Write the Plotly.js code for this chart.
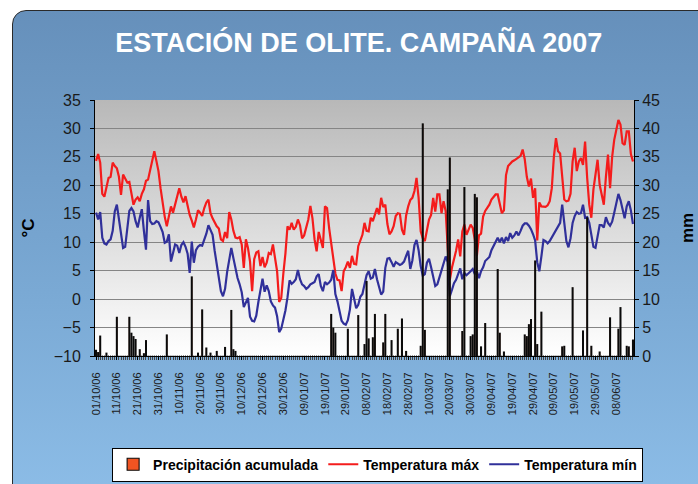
<!DOCTYPE html>
<html>
<head>
<meta charset="utf-8">
<script src="https://cdn.plot.ly/plotly-3.0.1.min.js"></script>
<style>
html,body{margin:0;padding:0;background:#fff;width:698px;height:484px;overflow:hidden;font-family:"Liberation Sans",Arial,sans-serif;}
#frame{position:absolute;left:12px;top:10px;width:760px;height:560px;border:1px solid #2a2a2a;border-radius:14px;
background:linear-gradient(to bottom,#6690bb 0%,#7aa9d4 50%,#93c4ee 100%);}
#plotbg{position:absolute;left:95px;top:100px;width:539px;height:256px;
background:linear-gradient(to bottom,#b8b8b8 0%,#d8d8d8 45%,#ffffff 100%);}
#chart{position:absolute;left:0;top:0;width:698px;height:484px;}
</style>
</head>
<body>
<div id="frame"></div>
<div id="plotbg"></div>
<div id="chart"></div>
<script>
const startDate = '2006-10-01';
const tickLabels = ['01/10/06','11/10/06','21/10/06','31/10/06','10/11/06','20/11/06','30/11/06','10/12/06','20/12/06','30/12/06',
  '09/01/07','19/01/07','29/01/07','08/02/07','18/02/07','28/02/07','10/03/07','20/03/07','30/03/07','09/04/07',
  '19/04/07','29/04/07','09/05/07','19/05/07','29/05/07','08/06/07'];

const tempMax = [
24.3,25.5,24,18.5,18,20,21.3,21.5,24,23.4,
23,21.5,18.3,21.9,21.2,20.5,20.6,18.4,16.6,17.5,
17.9,17.2,18.5,19.3,20.8,21,22.5,24,26,24.3,
22.5,19.5,16.5,14.5,12.8,14.5,16.3,15.2,16.5,17.8,
19.5,18,17,18.1,16.5,14.8,13.8,12.6,14,15.6,
15.2,14.6,16,17,17.5,15.1,14.2,13.4,12.8,12.4,
10.5,10.2,11.8,10.7,15.3,14,12,10.8,10.7,10.9,
9.6,5.5,10.5,9,6.6,1.4,7,8.2,8.4,5.8,
7.4,5.6,6.4,8.1,7.9,9.6,7.2,4.9,-0.5,0.2,
4.5,8,12.8,12.2,13.4,12.2,12.7,14,13,10.7,
11.2,12.6,14,16.4,14.2,10.5,8.4,11.8,10.4,9,
16.3,16,12.5,9.8,6.6,4.5,3.4,3.3,1.4,4.9,
5.6,6.6,5.5,7.6,6.2,6.1,9.3,10.2,11.3,13.4,
12,11.9,14.3,13.7,14.8,16,14.9,17.8,16.2,16.6,
13.2,11.4,11.9,12.8,14.6,15.1,15,12.2,11.3,14.7,
16.3,17.4,17.8,19,21.3,17.8,11.9,10.7,10.2,12.5,
14,14.8,17.8,15.4,18.4,18.4,15.1,17.2,15.5,9,
3.4,5.5,6.8,8.5,10.5,7.5,11.9,13.1,11.3,12.2,
13.1,12.5,10.5,7.6,11.2,11.5,14.5,15.5,16,16.6,
17.5,17.9,18.4,18.4,16.5,15.1,15.6,21.8,23.4,23.8,
24.2,24.4,24.6,24.9,25.2,26.3,24.6,21.5,19.8,21.2,
17.8,19.5,10.3,17,16.3,16.2,16.2,16.5,17.2,19.5,
25,28.3,26,25.6,22,17.5,17.2,17.3,18.5,24.2,
26.6,22.5,24.2,24.8,23.6,27.7,21.3,16.6,14.3,19.3,
21.9,24.5,20.1,18.5,16.6,21.5,25.4,19.5,25,28,
29.5,31.5,30.7,27.4,27.1,29.5,29.5,25.5,24.2];

const tempMin = [
15.2,14,15.3,10.8,9.8,9.6,10.2,10.5,12,15.4,
16.6,14,11,9,9.2,12.8,15.5,16,15.4,13.7,
12.6,14.3,15.8,12,8.7,17.4,13.7,13.2,13.3,13.7,
13.5,12.7,11.8,9.9,10.1,11.4,6.6,8.1,9.6,9.4,
8.1,9.5,10,9.2,8,4.6,10.1,6.4,8.6,9.2,
9.5,9.4,10.4,11.5,13,12.1,11.3,8.5,6,3.6,
1.4,0.5,1.8,4.8,7.2,9,7.2,5.2,3.7,2.6,
1.2,-1.4,-0.5,0.2,-3.1,-3.8,-3.9,-2.9,-0.5,1.6,
3.6,1.3,2.4,1.4,-0.4,-1.1,-1.5,-3,-5.8,-5.2,
-3.6,-2,0.3,3.3,2.7,3,3.5,5.1,3.5,2.6,
2.3,1.8,2.1,2.6,2.8,3,4,4.4,2.3,1.4,
3,2.6,2.9,3.4,5.1,0.9,-0.4,-2.3,-3.8,-4.3,
-4.5,-3.7,-1.8,1.8,0.3,-1.6,-1,0.4,0.9,2.7,
4.2,4.9,3.6,3.8,5.3,3.5,2.2,0.8,1.3,5.5,
7.1,7.2,6.5,5.7,6.5,6.3,6,6.2,6.6,7.6,
8.5,5.3,6.8,9.5,10.4,8.6,5.8,4.1,4.4,6.4,
7.1,5.6,3.8,2.3,2.6,3.9,5.2,6.4,7.5,6.5,
0.5,1.6,2.8,3.4,4.6,5.4,3.5,4.6,4.2,4.5,
4.9,5.3,4.4,4.9,3.7,4.9,5.6,6.7,7,7.4,
8.6,9.4,10,10.8,10,10.8,9.8,10.9,10.2,11.6,
10.8,11.2,11.9,11.2,12,12.9,13.3,13.3,12.9,12.3,
11.4,10.3,6.5,4.9,7.5,10.4,10.2,9.8,10.2,10.8,
11.5,12.1,12.7,13.4,16.6,13,10.2,9.1,10.7,13.4,
14.6,15.3,15,15.1,16.6,14.3,14.4,13.4,11.4,9.2,
9,11.2,13,13,12.6,14.4,13.4,12.9,13.6,15.2,
17.1,18.5,17.4,15.6,14.2,16.3,17.2,15.6,13.2];

const precip = [
1,0.6,3.5,0,0,0.5,0,0,0,0,
6.8,0,0,0,0,0,6.8,4,3.4,2.9,
0,1.1,0,0.4,2.7,0,0,0,0,0,
0,0,0,0,3.7,0,0,0,0,0,
0,0,0,0,0,0,13.9,0,0,0.5,
0,8.1,0,1.4,0,0.5,0,0,0.8,0,
0,0,1.5,0,0,8,1.1,0.8,0,0,
0,0,0,0,0,0,0,0,0,0,
0,0,0,0,0,0,0,0,0,0,
0,0,0,0,0,0,0,0,0,0,
0,0,0,0,0,0,0,0,0,0,
0,0,0,7.3,4.9,4,0,0,0,0,
0,4.7,0,0,0,0,7.1,0,0,2,
13.1,3,0,3.2,7.3,0,0,0,2.3,7.3,
0,0,2.7,0,0,4.7,0,6.5,0,0.8,
0,0,0,0,0,0,1.7,40.8,4.5,0,
0,0,0,0,0,0,0,0,0,29.2,
34.8,0,0,0,0,0,4.3,29.6,0,0,
3.4,3.7,28.4,27.8,0,1.6,0,5.7,0,0,
0,0,0,15.2,4,0,0.7,0,0,0,
0,0,0,0,0,0,3.7,3.4,5.5,6.4,
0,16.7,2,0,7.7,0,0,0,0,0,
0,0,0,0,1.6,1.7,0,0,0,12,
0,0,0,0,4.4,0,24.3,0,1.7,0,
0,0,0.7,0,0,0,0,6.7,0,0,
0,4.7,8.5,0,0,1.7,1.6,0,2.8];

// daily date categories
const dates = [];
const t0 = Date.parse(startDate + 'T00:00:00Z');
for (let i = 0; i < tempMax.length; i++) {
  dates.push(new Date(t0 + i * 86400000).toISOString().slice(0, 10));
}
const tickVals = tickLabels.map(s => '20' + s.slice(6, 8) + '-' + s.slice(3, 5) + '-' + s.slice(0, 2));
const lastDate = dates[dates.length - 1];
const DAY = 86400000;
const xStart = new Date(t0 - DAY / 2).toISOString().replace('T', ' ').slice(0, 19);
const xEnd = new Date(Date.parse(lastDate + 'T00:00:00Z') + DAY / 2).toISOString().replace('T', ' ').slice(0, 19);

const font = 'Liberation Sans, Arial, sans-serif';

const traces = [
  {type: 'bar', name: 'Precipitación acumulada', x: dates, y: precip, yaxis: 'y2',
   marker: {color: '#f05422', line: {color: '#0a0a0a', width: 1.1}}},
  {type: 'scatter', mode: 'lines', name: 'Temperatura máx', x: dates, y: tempMax,
   line: {color: '#f41c1c', width: 2.2}},
  {type: 'scatter', mode: 'lines', name: 'Temperatura mín', x: dates, y: tempMin,
   line: {color: '#30309a', width: 2.2}}
];

const layout = {
  width: 698, height: 484,
  margin: {l: 95, r: 64, t: 100, b: 128, autoexpand: false},
  paper_bgcolor: 'rgba(0,0,0,0)',
  plot_bgcolor: 'rgba(0,0,0,0)',
  bargap: 0.55,
  showlegend: true,
  title: {text: 'ESTACIÓN DE OLITE. CAMPAÑA 2007', font: {family: font, size: 27, color: '#ffffff', weight: 'bold'},
          x: 0.514, xanchor: 'center', y: 0.912, yanchor: 'middle'},
  xaxis: {type: 'date', range: [xStart, xEnd], tickmode: 'array', tickvals: tickVals, ticktext: tickLabels,
          tickangle: -90, tickfont: {family: font, size: 11, color: '#1a1a1a'}, automargin: false,
          ticklabelstandoff: 8,
          showline: true, linecolor: '#000', linewidth: 1, ticks: 'outside', ticklen: 3, tickcolor: '#000',
          minor: {ticks: 'outside', dtick: DAY, ticklen: 3, tickcolor: '#444', showgrid: false},
          showgrid: false, zeroline: false},
  yaxis: {range: [-10, 35], dtick: 5, tick0: -10, tickfont: {family: font, size: 16, color: '#1a1a1a'}, automargin: false,
          ticklabelstandoff: 6,
          showline: true, linecolor: '#000', linewidth: 1, ticks: 'outside', ticklen: 4, tickcolor: '#000',
          gridcolor: '#858585', gridwidth: 1, zeroline: false,
          title: {text: '°C', font: {family: font, size: 17, color: '#000', weight: 'bold'}, standoff: 14}},
  yaxis2: {range: [0, 45], dtick: 5, tick0: 0, overlaying: 'y', side: 'right', automargin: false,
           tickfont: {family: font, size: 16, color: '#1a1a1a'},
           showline: true, linecolor: '#000', linewidth: 1, ticks: 'outside', ticklen: 4, tickcolor: '#000',
           showgrid: false, zeroline: false,
           title: {text: 'mm', font: {family: font, size: 17, color: '#000', weight: 'bold'}, standoff: 22}},
  legend: {orientation: 'h', xref: 'container', yref: 'container', x: 0.541, xanchor: 'center', y: 0.040, yanchor: 'middle',
           bgcolor: '#ffffff', bordercolor: '#000', borderwidth: 1, itemwidth: 30,
           font: {family: font, size: 14, color: '#000', weight: 'bold'}, traceorder: 'normal'}
};

Plotly.newPlot('chart', traces, layout, {staticPlot: true, displayModeBar: false});
</script>
</body>
</html>
